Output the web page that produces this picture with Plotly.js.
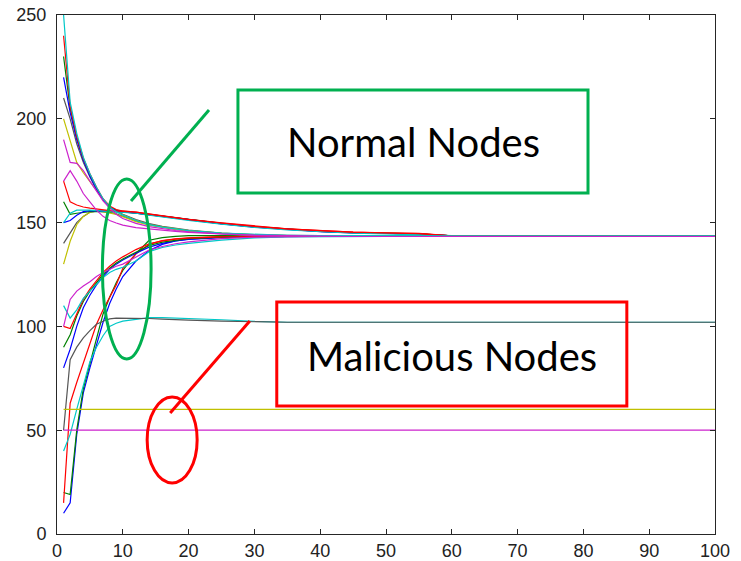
<!DOCTYPE html>
<html>
<head>
<meta charset="utf-8">
<script src="https://cdn.plot.ly/plotly-3.0.1.min.js"></script>
<style>html,body{margin:0;padding:0;background:#fff;}#chart{width:741px;height:561px;}</style>
</head>
<body>
<div id="chart"></div>
<script>
// iteration index (shared by all series)
const iterations = [1,2,3,4,5,6,7,8,9,10,12,14,16,18,20,25,30,35,40,45,50,55,60,100];

// normal nodes – upper path
const green230 = [230,205,191,180.5,173,166.5,161,157.5,156,155.4,154.7,153.9,153,152.1,151.3,149.6,148,146.8,145.9,145.2,144.9,144.6,143.6,143.5];
const blue220  = [220,203,190,180,172.5,166,161,157.3,155.8,155.2,154.5,153.7,152.8,151.9,151.1,149.4,147.8,146.6,145.7,145,144.7,144.5,143.6,143.5];
const green160 = [160,154,154.5,155,155.3,155.4,155.4,155.4,155.3,155.2,154.6,153.8,152.9,152,151.2,149.5,147.9,146.7,145.8,145.1,144.8,144.6,143.6,143.5];
const blue150  = [150,151,153.5,155.3,155.8,155.7,155.6,155.5,155.4,155.3,154.7,153.9,153,152,151.2,149.5,147.9,146.7,145.8,145.1,144.8,144.5,143.6,143.5];
const cyan150  = [150,154.5,156,156.1,156,155.8,155.6,155.4,155.3,155.1,154.5,153.6,152.7,151.8,151,149.3,147.7,146.5,145.6,144.9,144.6,144.3,143.7,143.6];
const red170   = [170,160,158.5,157.5,157,156.5,156.1,155.8,155.6,155.5,155,154.1,153.2,152.3,151.5,149.8,148.2,147,146.1,145.4,145,144.7,143.6,143.5];
const red240   = [240,206,191.5,181,173.5,167,161.5,158,156.3,155.6,155.1,154.2,153.3,152.4,151.6,149.9,148.3,147,146.1,145.4,145.1,144.8,143.6,143.5];

// normal nodes – middle path
const gray210    = [210,200,188,179,172,166,161,157.5,155.5,154,151.5,149.5,148.2,147.2,146.4,145,144.2,143.8,143.6,143.5,143.5,143.5,143.5,143.5];
const yellow200  = [200,189,179,174,170,165.5,161,157.5,155.3,153.7,151,149.2,148,147,146.2,144.9,144.1,143.7,143.5,143.5,143.5,143.5,143.5,143.5];
const gray140    = [140,145,150,153,155,155.5,155.3,155,154.2,153,150.8,149,147.8,146.8,146,144.8,144,143.7,143.5,143.5,143.5,143.5,143.5,143.5];
const yellow130  = [130,141,149,153,155,155.5,155.3,154.8,154,152.8,150.5,148.8,147.6,146.7,145.9,144.7,144,143.6,143.5,143.5,143.5,143.5,143.5,143.5];
const cyan250    = [250,208,193,181.5,173.5,167,161.5,157.5,155.2,153.6,151,149,147.8,146.8,146.1,144.9,144.3,143.9,143.7,143.6,143.6,143.6,143.6,143.6];
const magenta190 = [190,179,178.5,175,170,165,160.5,157,154,152,149.6,148.1,147,146.2,145.6,144.6,144,143.6,143.5,143.3,143.3,143.3,143.3,143.3];
const magenta170 = [170,175,170,164,160,156,153,151,149.8,148.8,147.6,146.9,146.3,145.8,145.3,144.4,143.8,143.5,143.4,143.3,143.3,143.3,143.3,143.3];

// normal nodes – rising from below
const cyan110    = [110,104,108,113.5,117,120.5,123.5,126,127.5,128.5,131.5,136,138,139.2,140,141.6,142.6,143.1,143.3,143.4,143.4,143.4,143.4,143.4];
const magenta100 = [100,113,117,119.5,121.5,124,126,127.5,129,130,133.5,136.8,138.5,139.8,140.7,142.3,143,143.3,143.4,143.3,143.3,143.3,143.3,143.3];
const red100     = [100,99,106,113,118,122,126,129,131.5,133.5,137,139.8,141.2,142,142.5,143.1,143.3,143.4,143.5,143.5,143.5,143.5,143.5,143.5];
const green90    = [90,96,105,112,117,121,125,128,130.5,132.5,135.8,139,140.6,141.6,142.3,143,143.3,143.4,143.5,143.5,143.5,143.5,143.5,143.5];
const blue80     = [80,89,100,109,115,120,124,127.5,130,132,135.3,138.2,140,141.2,141.9,142.8,143.2,143.4,143.5,143.5,143.5,143.5,143.5,143.5];
const red15      = [15,63,73,82,92,101,108,114,120,128,135,139.5,141.3,142.2,142.7,143.2,143.4,143.5,143.5,143.5,143.5,143.5,143.5,143.5];
const blue10     = [10,15,48,68,80,91,102,111,118,124,131.5,136.5,139.5,141.2,142,143,143.3,143.4,143.5,143.5,143.5,143.5,143.5,143.5];
const green20    = [20,19,50,70,82,94,106,114,121,127,135,141.5,142.8,143.4,143.7,143.7,143.6,143.5,143.5,143.5,143.5,143.5,143.5,143.5];

// group settling near 102
const gray50 = [50,84,90,94.5,98,101,102.5,103.6,104,104,104,103.8,103.5,103.2,103,102.5,102.2,102,102,102,102,102,102,102];
const cyan40 = [40,48,60,72,83,90,95.5,100,101.5,102.5,103.5,104.2,104.2,104,103.8,103.2,102.4,102,102,102,102,102,102,102];

// malicious nodes (constant)
const yellowMal  = [60,60,60,60,60,60,60,60,60,60,60,60,60,60,60,60,60,60,60,60,60,60,60,60];
const magentaMal = [50,50,50,50,50,50,50,50,50,50,50,50,50,50,50,50,50,50,50,50,50,50,50,50];

const C = {b:'#0000FF', g:'#008000', r:'#FF0000', c:'#00C8C8', m:'#CC22CC', y:'#C0C000', k:'#555555'};

// drawing order: later entries on top
const seriesList = [
  [blue10, C.b], [green20, C.g], [red15, C.r],
  [blue80, C.b], [green90, C.g], [red100, C.r], [cyan110, C.c], [magenta100, C.m],
  [cyan40, C.c], [gray50, C.k],
  [gray210, C.k], [yellow200, C.y], [gray140, C.k], [yellow130, C.y],
  [green230, C.g], [blue220, C.b], [green160, C.g], [blue150, C.b],
  [cyan150, C.c], [red170, C.r], [red240, C.r],
  [magenta170, C.m], [cyan250, C.c], [magenta190, C.m],
  [yellowMal, C.y], [magentaMal, C.m]
];

const traces = seriesList.map(([ys, col]) => ({
  x: iterations, y: ys, type: 'scatter', mode: 'lines',
  line: {color: col, width: 1.2}, hoverinfo: 'skip', showlegend: false
}));

const axisCommon = {
  showline: true, mirror: 'ticks', linecolor: '#262626', linewidth: 1,
  ticks: 'inside', ticklen: 5, tickcolor: '#262626', tickwidth: 1,
  showgrid: false, zeroline: false,
  tickfont: {family: 'Liberation Sans, Arial, sans-serif', size: 18, color: '#222'}
};

const layout = {
  width: 741, height: 561,
  margin: {l: 57, r: 26, t: 15, b: 27},
  paper_bgcolor: '#fff', plot_bgcolor: '#fff',
  xaxis: Object.assign({}, axisCommon, {range: [0, 100], dtick: 10, tick0: 0}),
  yaxis: Object.assign({}, axisCommon, {range: [0, 250], dtick: 50, tick0: 0, ticklabelstandoff: 6}),
  shapes: [
    {type: 'rect', xref: 'x', yref: 'y', x0: 27.5, x1: 80.7, y0: 164.3, y1: 213.9, line: {color: '#00B050', width: 3}},
    {type: 'circle', xref: 'x', yref: 'y', x0: 6.9, x1: 14.3, y0: 84.3, y1: 171, line: {color: '#00B050', width: 3}},
    {type: 'line', xref: 'x', yref: 'y', x0: 23.1, y0: 204.2, x1: 11.25, y1: 160.4, line: {color: '#00B050', width: 3}},
    {type: 'rect', xref: 'x', yref: 'y', x0: 33.4, x1: 86.6, y0: 61.7, y1: 111.8, line: {color: '#FF0000', width: 3}},
    {type: 'circle', xref: 'x', yref: 'y', x0: 13.7, x1: 21.3, y0: 24.6, y1: 66, line: {color: '#FF0000', width: 3}},
    {type: 'line', xref: 'x', yref: 'y', x0: 29.3, y0: 102.6, x1: 17.2, y1: 58.3, line: {color: '#FF0000', width: 3}}
  ],
  annotations: [
    {xref: 'x', yref: 'y', x: 54.2, y: 188.6, text: 'Normal Nodes', showarrow: false,
     font: {family: 'Lato, Open Sans, sans-serif', size: 40, color: '#000'}},
    {xref: 'x', yref: 'y', x: 60.1, y: 85.7, text: 'Malicious Nodes', showarrow: false,
     font: {family: 'Lato, Open Sans, sans-serif', size: 40, color: '#000'}}
  ]
};

Plotly.newPlot('chart', traces, layout, {staticPlot: true, displayModeBar: false});
</script>
</body>
</html>
